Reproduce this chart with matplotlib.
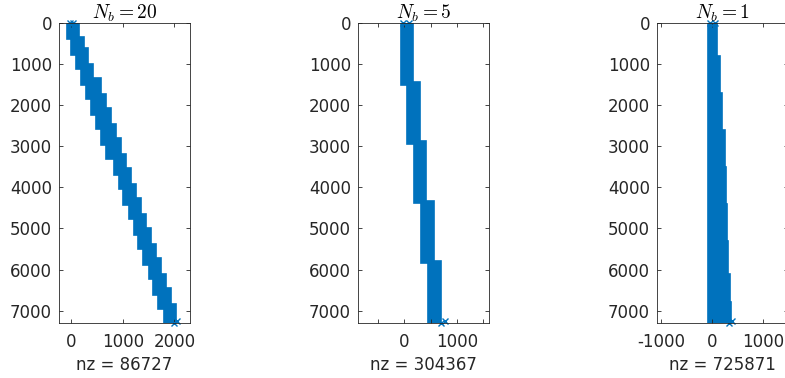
import numpy as np
import matplotlib
matplotlib.use("Agg")
import matplotlib.pyplot as plt

plt.rcParams['font.family'] = ['DejaVu Sans']
plt.rcParams['mathtext.fontset'] = 'cm'

BLUE = '#0072BD'
GREY = '#262626'

# number of blocks and non-zeros per panel
nb = [20, 5, 1]
nz = [86727, 304367, 725871]
n_rows = 7300

# N_b = 20: row limits / column extent of the left and right band edges
left_rows_20 = [0, 400, 770, 1130, 1500, 1860, 2230, 2590, 2960, 3320, 3690,
                4050, 4420, 4780, 5150, 5510, 5880, 6240, 6610, 6970, 7300]
left_20 = [-70, 0, 95, 190, 290, 385, 480, 575, 675, 824, 920, 1015,
           1115, 1210, 1305, 1400, 1500, 1595, 1690, 1790]
right_rows_20 = [0, 330, 620, 990, 1350, 1720, 2080, 2450, 2810, 3180, 3540,
                 3910, 4270, 4640, 5000, 5370, 5730, 6100, 6460, 6830, 7300]
right_20 = [160, 244, 329, 420, 585, 680, 775, 870, 970, 1057, 1160,
            1255, 1355, 1450, 1545, 1640, 1740, 1835, 1930, 2025]

# N_b = 5
left_rows_5 = [0, 1500, 2940, 4385, 5846, 7300]
left_5 = [-68, 57, 184, 311, 456]
right_rows_5 = [0, 1440, 2870, 4320, 5780, 7300]
right_5 = [170, 300, 420, 555, 690]

# N_b = 1 (single block, right edge grows slowly)
left_rows_1 = [0, 7300]
left_1 = [-87]
right_rows_1 = [0, 800, 1700, 2600, 3500, 4400, 5300, 6100, 6800, 7300]
right_1 = [105, 160, 200, 255, 280, 300, 320, 345, 375]

# stray 'x' markers at band ends
cross_c = [[-20, 40, 1990, 2040], [-20, 80, 700, 780], [-40, 60, 330, 400]]
cross_r = [[0, 0, 7300, 7250], [0, 0, 7300, 7250], [0, 0, 7300, 7250]]

xlims = [(-230, 2300), (-879, 1606), (-1083, 1496)]
xticks = [[0, 1000, 2000], [-500, 0, 500, 1000, 1500], [-1000, 0, 1000]]
xlabels = [['0', '1000', '2000'], ['', '0', '', '1000', ''],
           ['-1000', '0', '1000']]

bands = [(left_rows_20, left_20, right_rows_20, right_20),
         (left_rows_5, left_5, right_rows_5, right_5),
         (left_rows_1, left_1, right_rows_1, right_1)]

W, H = 785, 378
fig = plt.figure(figsize=(W / 100, H / 100), dpi=100)
lefts_px = [59, 358, 657]
for k in range(3):
    ax = fig.add_axes([lefts_px[k] / W, 1 - 323 / H, 131 / W, 300 / H])
    lrows, left, rrows, right = bands[k]
    xs, ys = [], []
    for i in range(len(right)):
        xs += [right[i], right[i]]
        ys += [rrows[i], rrows[i + 1]]
    for i in reversed(range(len(left))):
        xs += [left[i], left[i]]
        ys += [lrows[i + 1], lrows[i]]
    ax.fill(xs, ys, color=BLUE, lw=1.2, ec=BLUE)
    ax.plot(cross_c[k], cross_r[k], 'x', color=BLUE, ms=5, mew=1,
            clip_on=False)
    ax.set_xlim(*xlims[k])
    ax.set_ylim(n_rows, 0)
    ax.set_xticks(xticks[k])
    ax.set_xticklabels(xlabels[k])
    ax.set_yticks(range(0, 7001, 1000))
    ax.tick_params(direction='in', length=3, width=0.6, colors=GREY,
                   labelsize=12, top=True, right=True)
    ax.tick_params(axis='x', pad=7)
    ax.tick_params(axis='y', pad=5)
    for s in ax.spines.values():
        s.set_color(GREY)
        s.set_linewidth(0.6)
    ax.set_title(r'$N_b = %d$' % nb[k], fontsize=14, pad=3)
    ax.set_xlabel('nz = %d' % nz[k], fontsize=12, color=GREY, labelpad=4)

fig.savefig('out.png', dpi=100)
